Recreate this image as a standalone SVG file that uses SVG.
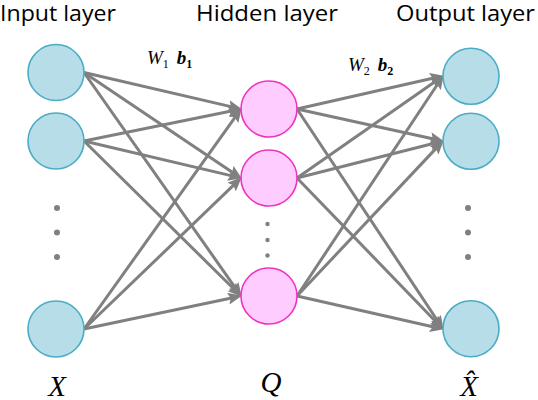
<svg xmlns="http://www.w3.org/2000/svg" width="538" height="400" viewBox="0 0 538 400">
<style>
.title{font-family:"Open Sans","Noto Sans","DejaVu Sans",sans-serif;font-size:22px;fill:#000}
.math{font-family:"Liberation Serif","DejaVu Serif",serif;font-style:italic;fill:#000}
.in{fill:#B6DDE8;stroke:#4BACC6;stroke-width:1.6}
.hid{fill:#FFCCFF;stroke:#F032C0;stroke-width:1.6}
.dot{fill:#808080}
.edge{stroke:#808080;stroke-width:3;fill:none;marker-end:url(#ah)}
</style>
<defs>
<marker id="ah" viewBox="0 0 14 12" refX="7" refY="6" markerWidth="14" markerHeight="12" markerUnits="userSpaceOnUse" orient="auto">
<path d="M0,0 L14,6 L0,12 L2.5,6 Z" fill="#808080"/>
</marker>
</defs>
<rect width="538" height="400" fill="#fff"/>
<g id="titles">
<text class="title" x="0" y="21" textLength="116" lengthAdjust="spacingAndGlyphs">Input layer</text>
<text class="title" x="196" y="21" textLength="142" lengthAdjust="spacingAndGlyphs">Hidden layer</text>
<text class="title" x="396" y="21" textLength="139" lengthAdjust="spacingAndGlyphs">Output layer</text>
</g>
<g id="connectors">
<line class="edge" x1="84" y1="72.5" x2="235.2" y2="107.6"/>
<line class="edge" x1="84" y1="72.5" x2="236.0" y2="174.7"/>
<line class="edge" x1="84" y1="72.5" x2="237.6" y2="291.1"/>
<line class="edge" x1="84" y1="141" x2="235.1" y2="110.2"/>
<line class="edge" x1="84" y1="141" x2="235.2" y2="176.6"/>
<line class="edge" x1="84" y1="141" x2="236.7" y2="291.8"/>
<line class="edge" x1="84" y1="329" x2="237.5" y2="113.9"/>
<line class="edge" x1="84" y1="329" x2="236.7" y2="182.2"/>
<line class="edge" x1="84" y1="329" x2="235.1" y2="297.2"/>
<line class="edge" x1="297" y1="109" x2="437.1" y2="77.3"/>
<line class="edge" x1="297" y1="109" x2="437.1" y2="139.7"/>
<line class="edge" x1="297" y1="109" x2="439.7" y2="324.0"/>
<line class="edge" x1="297" y1="178" x2="438.1" y2="79.4"/>
<line class="edge" x1="297" y1="178" x2="437.2" y2="142.5"/>
<line class="edge" x1="297" y1="178" x2="438.8" y2="324.7"/>
<line class="edge" x1="297" y1="296" x2="439.7" y2="81.0"/>
<line class="edge" x1="297" y1="296" x2="438.9" y2="145.4"/>
<line class="edge" x1="297" y1="296" x2="437.1" y2="327.7"/>
</g>
<g id="input-1"><circle class="in" cx="56" cy="72.5" r="28"/></g>
<g id="input-2"><circle class="in" cx="56" cy="141" r="28"/></g>
<g id="input-dots"><circle class="dot" cx="57" cy="208" r="3"/><circle class="dot" cx="57" cy="232.5" r="3"/><circle class="dot" cx="57" cy="257" r="3"/></g>
<g id="input-n"><circle class="in" cx="56" cy="329" r="28"/></g>
<g id="hidden-1"><circle class="hid" cx="269" cy="109" r="28"/></g>
<g id="hidden-2"><circle class="hid" cx="269" cy="178" r="28"/></g>
<g id="hidden-dots"><circle class="dot" cx="267.5" cy="224" r="2.2"/><circle class="dot" cx="267.5" cy="240" r="2.2"/><circle class="dot" cx="267.5" cy="255.5" r="2.2"/></g>
<g id="hidden-n"><circle class="hid" cx="269" cy="296" r="28"/></g>
<g id="output-1"><circle class="in" cx="471" cy="76.3" r="28"/></g>
<g id="output-2"><circle class="in" cx="471" cy="141.3" r="28"/></g>
<g id="output-dots"><circle class="dot" cx="468" cy="208" r="3"/><circle class="dot" cx="468" cy="232.5" r="3"/><circle class="dot" cx="468" cy="257" r="3"/></g>
<g id="output-n"><circle class="in" cx="471" cy="328.7" r="28"/></g>
<g id="params">
<text class="math" x="147" y="64" font-size="19">W<tspan font-size="12" font-style="normal" dy="4">1</tspan><tspan dx="8" dy="-4" font-weight="bold">b</tspan><tspan font-size="12" font-style="normal" font-weight="bold" dy="4">1</tspan></text>
<text class="math" x="348" y="71" font-size="19">W<tspan font-size="12" font-style="normal" dy="4">2</tspan><tspan dx="8" dy="-4" font-weight="bold">b</tspan><tspan font-size="12" font-style="normal" font-weight="bold" dy="4">2</tspan></text>
</g>
<g id="labels">
<text class="math" x="57" y="396" font-size="29" text-anchor="middle">X</text>
<text class="math" x="271" y="392" font-size="29" text-anchor="middle">Q</text>
<text class="math" x="469" y="396" font-size="29" text-anchor="middle">X̂</text>
</g>
</svg>
